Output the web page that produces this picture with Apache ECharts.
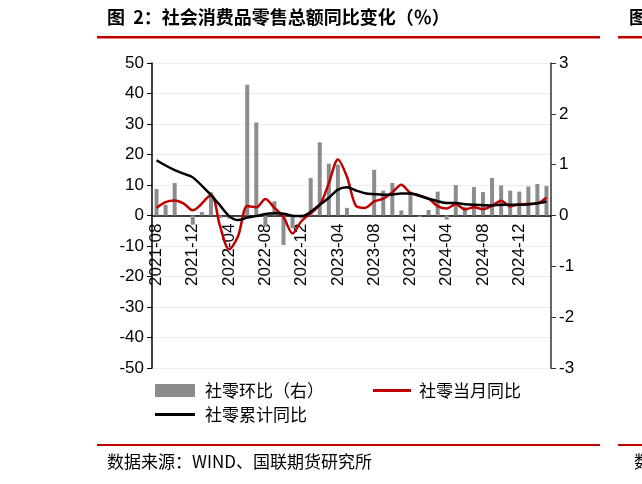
<!DOCTYPE html>
<html>
<head>
<meta charset="utf-8">
<style>
  html, body { margin: 0; padding: 0; background: #fff; }
  #chart { width: 642px; height: 484px; }
</style>
<script src="https://cdn.jsdelivr.net/npm/echarts@6/dist/echarts.min.js"></script>
</head>
<body>
<div id="chart"></div>
<script>
// 月份 2021-08 ~ 2025-03
var months = [
  "2021-08", "2021-09", "2021-10", "2021-11", "2021-12",
  "2022-01", "2022-02", "2022-03", "2022-04", "2022-05", "2022-06", "2022-07",
  "2022-08", "2022-09", "2022-10", "2022-11", "2022-12",
  "2023-01", "2023-02", "2023-03", "2023-04", "2023-05", "2023-06", "2023-07",
  "2023-08", "2023-09", "2023-10", "2023-11", "2023-12",
  "2024-01", "2024-02", "2024-03", "2024-04", "2024-05", "2024-06", "2024-07",
  "2024-08", "2024-09", "2024-10", "2024-11", "2024-12",
  "2025-01", "2025-02", "2025-03"
];
// 社零环比（右轴）
var momValues = [
  0.52, 0.21, 0.64, 0, -0.18,
  0.07, 0.46, -0.05, -0.06, 0, 2.57, 1.83,
  -0.22, 0.28, -0.58, -0.25, -0.05,
  0.74, 1.44, 1.02, 1.0, 0.15, 0, 0,
  0.9, 0.49, 0.64, 0.1, 0.44,
  -0.03, 0.11, 0.47, -0.08, 0.6, 0.17, 0.56,
  0.46, 0.74, 0.59, 0.49, 0.47,
  0.57, 0.62, 0.58
];
// 社零当月同比
var monthlyYoy = [
  2.5, 4.4, 4.9, 3.9, 1.7,
  null, 6.7, -3.5, -11.1, -6.7, 3.1, 2.7,
  5.4, 2.5, -0.5, -5.9, -1.8,
  null, 3.5, 10.6, 18.4, 12.7, 3.1, 2.5,
  4.6, 5.5, 7.6, 10.1, 7.4,
  null, 5.5, 3.1, 2.3, 3.7, 2.0, 2.7,
  2.1, 3.2, 4.8, 3.0, 3.7,
  null, 4.0, 5.9
];
// 社零累计同比
var cumulativeYoy = [
  18.1, 16.4, 14.9, 13.7, 12.5,
  null, 6.7, 3.3, -0.2, -1.5, -0.7, -0.2,
  0.5, 0.7, 0.6, -0.1, -0.2,
  null, 3.5, 5.8, 8.5, 9.3, 8.2, 7.3,
  7.0, 6.8, 6.9, 7.2, 7.2,
  null, 5.5, 4.7, 4.1, 4.1, 3.7, 3.5,
  3.4, 3.3, 3.5, 3.5, 3.5,
  null, 4.0, 4.6
];

var cjk = "'Noto Sans CJK SC', sans-serif";
var num = "'Liberation Sans', Arial, sans-serif";

var chart = echarts.init(document.getElementById("chart"));
var option = {
  animation: false,
  backgroundColor: "#fff",
  grid: { left: 152, right: 91, top: 63, bottom: 116 },
  legend: [
    {
      data: ["社零环比（右）"],
      left: 150, top: 377,
      icon: "rect", itemWidth: 40, itemHeight: 13,
      textStyle: { fontFamily: cjk, fontSize: 17, color: "#000", padding: [0, 0, 0, 5] }
    },
    {
      data: ["社零当月同比"],
      left: 368, top: 377,
      icon: "rect", itemWidth: 38, itemHeight: 3,
      textStyle: { fontFamily: cjk, fontSize: 17, color: "#000", padding: [0, 0, 0, 3] }
    },
    {
      data: ["社零累计同比"],
      left: 150, top: 401,
      icon: "rect", itemWidth: 40, itemHeight: 3,
      textStyle: { fontFamily: cjk, fontSize: 17, color: "#000", padding: [0, 0, 0, 5] }
    }
  ],
  xAxis: {
    type: "category",
    data: months,
    boundaryGap: true,
    offset: -152.5,
    axisLine: { onZero: false, lineStyle: { color: "#000", width: 1.5 } },
    axisTick: { interval: 3, length: 5, lineStyle: { color: "#000" } },
    axisLabel: {
      interval: 3, rotate: 90, margin: 8,
      fontFamily: num, fontSize: 17, color: "#000"
    },
    splitLine: { show: false }
  },
  yAxis: [
    {
      type: "value",
      min: -50, max: 50, interval: 10,
      axisLine: { show: true, lineStyle: { color: "#000", width: 1.5 } },
      axisTick: { show: true, length: 5, lineStyle: { color: "#000" } },
      axisLabel: { fontFamily: num, fontSize: 17, color: "#000", margin: 8 },
      splitLine: { show: true, lineStyle: { color: "#ececec", width: 1 } }
    },
    {
      type: "value",
      min: -3, max: 3, interval: 1,
      axisLine: { show: true, lineStyle: { color: "#333", width: 1.5 } },
      axisTick: { show: true, length: 5, lineStyle: { color: "#333" } },
      axisLabel: { fontFamily: num, fontSize: 17, color: "#000", margin: 8 },
      splitLine: { show: false }
    }
  ],
  series: [
    {
      name: "社零环比（右）",
      type: "bar",
      yAxisIndex: 1,
      data: momValues,
      barWidth: 4,
      itemStyle: { color: "#8c8c8c" }
    },
    {
      name: "社零当月同比",
      type: "line",
      yAxisIndex: 0,
      data: monthlyYoy,
      connectNulls: true,
      smooth: 0.3,
      showSymbol: false,
      lineStyle: { color: "#c00000", width: 2.5 },
      itemStyle: { color: "#c00000" },
      z: 3
    },
    {
      name: "社零累计同比",
      type: "line",
      yAxisIndex: 0,
      data: cumulativeYoy,
      connectNulls: true,
      smooth: 0.3,
      showSymbol: false,
      lineStyle: { color: "#000", width: 2.5 },
      itemStyle: { color: "#000" },
      z: 4
    }
  ],
  graphic: [
    {
      type: "text", left: 107, top: 8,
      style: { text: "图  2：社会消费品零售总额同比变化（％）", font: "bold 18px " + cjk, fill: "#000" }
    },
    {
      type: "text", left: 629, top: 8,
      style: { text: "图", font: "bold 18px " + cjk, fill: "#000" }
    },
    { type: "rect", shape: { x: 97, y: 36, width: 503, height: 2.5 }, style: { fill: "#c00000" } },
    { type: "rect", shape: { x: 618, y: 36, width: 30, height: 2.5 }, style: { fill: "#c00000" } },
    { type: "rect", shape: { x: 97, y: 444, width: 503, height: 2 }, style: { fill: "#c00000" } },
    { type: "rect", shape: { x: 618, y: 444, width: 30, height: 2 }, style: { fill: "#c00000" } },
    {
      type: "text", left: 107, top: 453,
      style: { text: "数据来源：WIND、国联期货研究所", font: "17px " + cjk, fill: "#000" }
    },
    {
      type: "text", left: 634, top: 453,
      style: { text: "数", font: "17px " + cjk, fill: "#000" }
    }
  ]
};
chart.setOption(option);
</script>
</body>
</html>
